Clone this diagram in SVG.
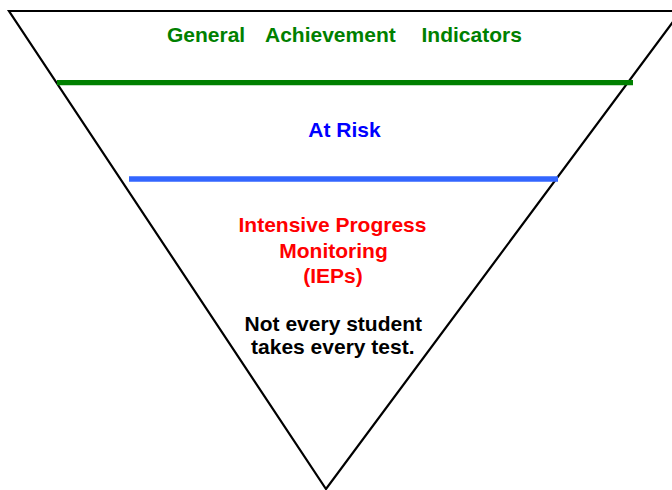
<svg xmlns="http://www.w3.org/2000/svg" width="672" height="490" viewBox="0 0 672 490">
<style>
text{font-family:"Liberation Sans",Arial,sans-serif;font-weight:bold;font-size:21px;}
.g{fill:#008000}.b{fill:#0000FF}.r{fill:#FF0000}.k{fill:#000}
.c{text-anchor:middle}
</style>
<rect width="672" height="490" fill="#fff"/>
<g id="funnel">
<polygon points="9,11 681,11 326,489" fill="none" stroke="#000" stroke-width="2.2" stroke-linejoin="miter"/>
</g>
<g id="connectors">
<line x1="57" y1="82.7" x2="633" y2="82.7" stroke="#008000" stroke-width="5.3"/>
<line x1="129" y1="179" x2="558" y2="179" stroke="#3366FF" stroke-width="5.5"/>
</g>
<g id="general">
<text class="g" y="41.7"><tspan x="167">General</tspan><tspan x="265">Achievement</tspan><tspan x="421.5">Indicators</tspan></text>
</g>
<g id="atrisk">
<text class="b c" x="344.5" y="136.7">At Risk</text>
</g>
<g id="intensive">
<text class="r c" x="332.5" y="231.7">Intensive Progress</text>
<text class="r c" x="333.5" y="258.3">Monitoring</text>
<text class="r c" x="333" y="282.5">(IEPs)</text>
</g>
<g id="note">
<text class="k c" x="333.3" y="331">Not every student</text>
<text class="k c" x="332.8" y="354.3">takes every test.</text>
</g>
</svg>
